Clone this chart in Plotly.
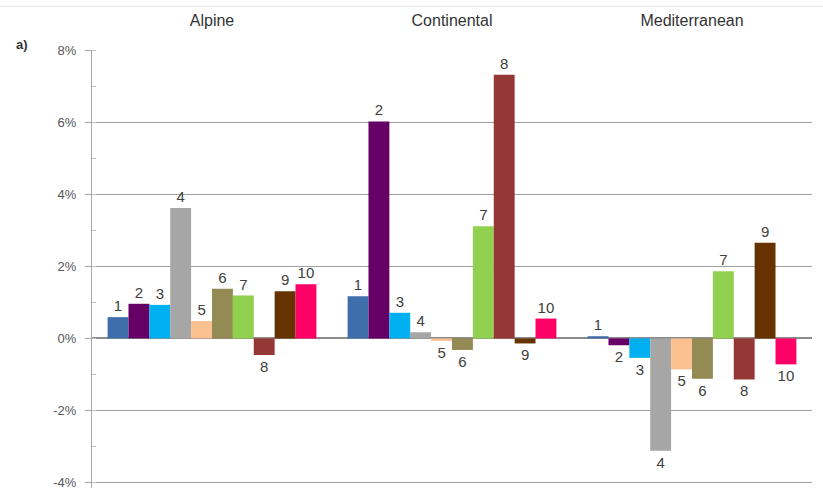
import plotly.graph_objects as go

# Climate regions (category axis) and the ten numbered series
regions = ["Alpine", "Continental", "Mediterranean"]
series_labels = ["1", "2", "3", "4", "5", "6", "7", "8", "9", "10"]

# Relative change (%) per series, one value per region
s1 = [0.59, 1.17, 0.06]
s2 = [0.96, 6.02, -0.19]
s3 = [0.93, 0.71, -0.54]
s4 = [3.62, 0.17, -3.12]
s5 = [0.48, -0.07, -0.86]
s6 = [1.38, -0.32, -1.12]
s7 = [1.19, 3.11, 1.86]
s8 = [-0.46, 7.31, -1.14]
s9 = [1.31, -0.14, 2.65]
s10 = [1.50, 0.55, -0.72]

series_values = [s1, s2, s3, s4, s5, s6, s7, s8, s9, s10]
series_colors = ["#3f6faa", "#660066", "#00b0f0", "#a6a6a6", "#fac090",
                 "#948a54", "#92d050", "#953735", "#663300", "#ff0066"]

y_ticks = [-4, -2, 0, 2, 4, 6, 8]

fig = go.Figure()
for name, vals, col in zip(series_labels, series_values, series_colors):
    fig.add_trace(go.Bar(
        x=regions, y=vals, name=name,
        marker=dict(color=col, line=dict(width=0)),
        text=[name] * len(vals), textposition="outside",
        textfont=dict(size=15, color="#404040",
                      family="Liberation Sans, Arial, sans-serif"),
        cliponaxis=False,
    ))

fig.update_layout(
    width=823, height=489,
    margin=dict(l=92, r=11, t=50, b=1),
    paper_bgcolor="white", plot_bgcolor="white",
    barmode="group", bargap=0.13, bargroupgap=0,
    showlegend=False,
    font=dict(family="Liberation Sans, Arial, sans-serif", color="#404040"),
    xaxis=dict(
        type="category", side="top", showgrid=False, showline=False,
        zeroline=False, ticks="", ticklabelstandoff=20,
        tickfont=dict(size=16, color="#333333"),
    ),
    yaxis=dict(
        range=[-4.15, 8.0], tickvals=y_ticks,
        ticktext=[f"{v}%" for v in y_ticks],
        automargin=False,
        showgrid=True, gridcolor="#a0a0a0", gridwidth=1,
        zeroline=True, zerolinecolor="#8c8c8c", zerolinewidth=1.5,
        showline=True, linecolor="#a6a6a6", linewidth=1,
        ticks="outside", ticklen=6, tickcolor="#a6a6a6",
        ticklabelstandoff=6, ticklabeloverflow="allow",
        tickfont=dict(size=13, color="#555555"),
        minor=dict(dtick=1, ticks="inside", ticklen=4,
                   tickcolor="#c0c0c0", showgrid=False),
    ),
)

# Panel tag
fig.add_annotation(
    text="<b>a)</b>", xref="paper", yref="paper", x=-0.108, y=1.012,
    xanchor="left", yanchor="middle", showarrow=False,
    font=dict(size=13, color="#333333"),
)

# Faint frame line across the top
fig.add_shape(
    type="line", xref="paper", yref="paper", x0=-0.13, x1=1.02,
    y0=1.10, y1=1.10, line=dict(color="#e4e4e4", width=1),
)

fig.write_html("out.html")
